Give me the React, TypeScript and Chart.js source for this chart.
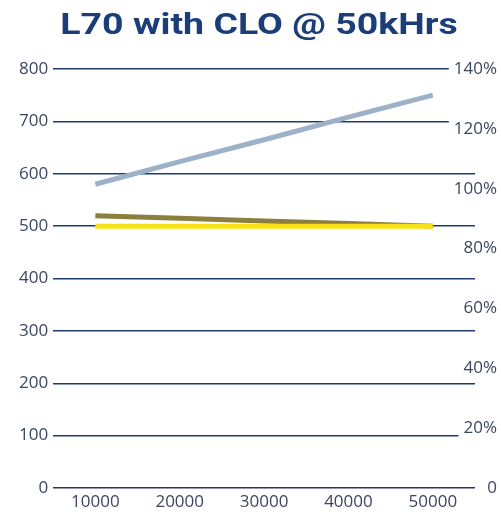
import React, { useEffect, useRef } from "react";
import { Chart, registerables } from "chart.js";

Chart.register(...registerables);

const categories = ["10000", "20000", "30000", "40000", "50000"];
const seriesBlue = [580, 623, 665, 708, 750];
const seriesOlive = [520, 515, 510, 505, 500];
const seriesYellow = [500, 500, 500, 500, 500];
const titleText = "L70 with CLO @ 50kHrs";

const titlePlugin = {
  id: "wideTitle",
  afterDraw(chart: any) {
    const ctx = chart.ctx;
    ctx.save();
    ctx.font = "bold 30px Roboto";
    ctx.fillStyle = "#1b3d78";
    ctx.textAlign = "center";
    ctx.textBaseline = "alphabetic";
    ctx.translate(259, 34);
    ctx.scale(1.25, 1);
    ctx.fillText(titleText, 0, 0);
    ctx.restore();
  },
};

export default function App() {
  const ref = useRef<HTMLCanvasElement>(null);
  useEffect(() => {
    const ctx = ref.current!;
    const chart = new Chart(ctx, {
      type: "line",
      data: {
        labels: categories,
        datasets: [
          { data: seriesBlue, borderColor: "#9db2c9", borderWidth: 5, pointRadius: 0, yAxisID: "y", order: 3 },
          { data: seriesOlive, borderColor: "#8c7e3c", borderWidth: 5, pointRadius: 0, yAxisID: "y", order: 2 },
          { data: seriesYellow, borderColor: "#f7e313", borderWidth: 5, pointRadius: 0, yAxisID: "y", order: 1 },
        ],
      },
      plugins: [titlePlugin],
      options: {
        animation: false,
        responsive: false,
        layout: { padding: { top: 69, left: 19, right: 4, bottom: 0 } },
        plugins: {
          legend: { display: false },
          tooltip: { enabled: false },
          title: { display: false },
        },
        scales: {
          x: {
            type: "category",
            offset: true,
            grid: { display: false, drawTicks: false },
            border: { display: false },
            afterFit: (s: any) => {
              s.height = 24;
            },
            ticks: { color: "#3b4660", font: { family: "Open Sans", size: 17 }, padding: 4, maxRotation: 0 },
          },
          y: {
            position: "left",
            min: 0,
            max: 800,
            grid: { color: "#1f3c70", lineWidth: 1.5, drawTicks: true, tickLength: 5, tickColor: "rgba(0,0,0,0)" },
            border: { display: false },
            ticks: { stepSize: 100, color: "#3b4660", font: { family: "Open Sans", size: 17 }, padding: 0 },
          },
          y2: {
            position: "right",
            min: 0,
            max: 140,
            grid: { display: false, drawOnChartArea: false, drawTicks: false },
            border: { display: false },
            afterFit: (s: any) => {
              s.width = 22;
              s.paddingTop = 0;
              s.paddingBottom = 0;
            },
            ticks: {
              stepSize: 20,
              color: "#3b4660",
              font: { family: "Open Sans", size: 17 },
              mirror: true,
              padding: 22,
              crossAlign: "near",
              showLabelBackdrop: true,
              backdropColor: "#ffffff",
              backdropPadding: { left: 5, right: 0, top: 0, bottom: 0 },
              callback: (v: any) => (v === 0 ? "0" : v + "%"),
            },
          },
        },
      },
    });
    return () => chart.destroy();
  }, []);
  return (
    <div style={{ position: "absolute", left: 0, top: 0, width: 501, height: 512, background: "#fff" }}>
      <canvas ref={ref} width={501} height={512} style={{ display: "block", width: 501, height: 512 }} />
    </div>
  );
}
